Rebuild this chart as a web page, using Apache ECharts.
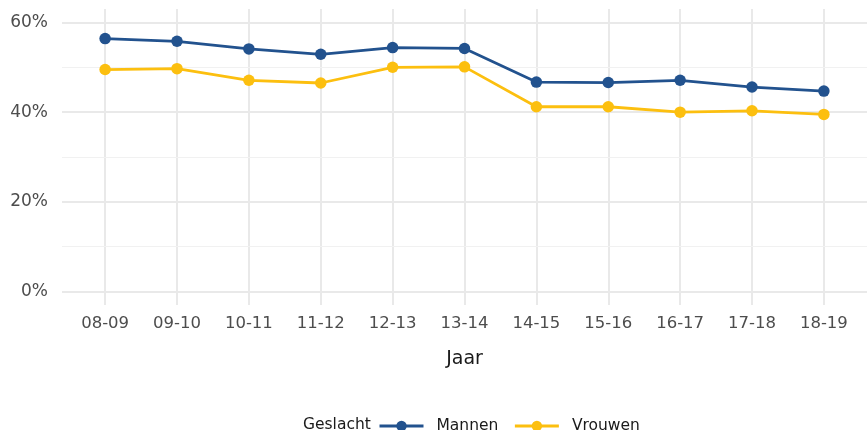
<!DOCTYPE html>
<html>
<head>
<meta charset="utf-8">
<script src="https://cdn.jsdelivr.net/npm/echarts@6/dist/echarts.min.js"></script>
<style>html,body{margin:0;padding:0;background:#fff}#c{width:867px;height:430px}</style>
</head>
<body>
<div id="c"></div>
<script>
var categories = ['08-09','09-10','10-11','11-12','12-13','13-14','14-15','15-16','16-17','17-18','18-19'];
var mannen = [56.4, 55.8, 54.1, 52.9, 54.4, 54.2, 46.7, 46.6, 47.1, 45.6, 44.7];
var vrouwen = [49.5, 49.7, 47.1, 46.5, 50.0, 50.1, 41.2, 41.2, 40.0, 40.3, 39.5];
var yMajorTicks = [0, 20, 40, 60];
var yMinorTicks = [10, 30, 50];

var FONT = 'DejaVu Sans';
var idx = categories.map(function (c, i) { return i; });
function pairs(arr) { return arr.map(function (v, i) { return [i, v]; }); }

var gridLines = [];
idx.forEach(function (i) {
  gridLines.push({ xAxis: i, lineStyle: { color: '#e9e9e9', width: 2, type: 'solid' } });
});
yMinorTicks.forEach(function (v) {
  gridLines.push({ yAxis: v, lineStyle: { color: '#f1f1f1', width: 1, type: 'solid' } });
});
yMajorTicks.forEach(function (v) {
  gridLines.push({ yAxis: v, lineStyle: { color: '#e9e9e9', width: 2, type: 'solid' } });
});

var chart = echarts.init(document.getElementById('c'), null, { renderer: 'canvas' });
chart.setOption({
  animation: false,
  backgroundColor: '#ffffff',
  grid: { left: 62, top: 9, width: 811, height: 296, containLabel: false },
  xAxis: {
    type: 'value', min: -0.6, max: 10.6,
    name: 'Jaar', nameLocation: 'middle', nameGap: 45,
    nameTextStyle: { fontFamily: FONT, fontSize: 19, color: '#1a1a1a' },
    axisLine: { show: false }, axisTick: { show: false }, splitLine: { show: false },
    axisLabel: {
      customValues: idx, margin: 10,
      fontFamily: FONT, fontSize: 16.5, color: '#4d4d4d',
      formatter: function (v) { return categories[Math.round(v)]; }
    }
  },
  yAxis: {
    type: 'value', min: -3, max: 63,
    axisLine: { show: false }, axisTick: { show: false }, splitLine: { show: false },
    axisLabel: {
      customValues: yMajorTicks, margin: 14,
      fontFamily: FONT, fontSize: 17, color: '#4d4d4d',
      formatter: function (v) { return v + '%'; }
    }
  },
  graphic: [{
    type: 'text', left: 303, top: 417,
    style: { text: 'Geslacht', font: '15.5px "DejaVu Sans"', fill: '#1a1a1a' }
  }],
  legend: {
    left: 378, top: 418, padding: 0, itemWidth: 44, itemHeight: 13, itemGap: 15,
    data: ['Mannen', 'Vrouwen'],
    lineStyle: { width: 3 },
    textStyle: { fontFamily: FONT, fontSize: 15.5, color: '#1a1a1a', padding: [0, 0, 0, 8] }
  },
  series: [
    {
      type: 'line', name: 'grid', data: [], z: 0, silent: true,
      markLine: { z: 0, silent: true, symbol: ['none', 'none'], label: { show: false }, animation: false, data: gridLines }
    },
    {
      type: 'line', name: 'Mannen', data: pairs(mannen), z: 3,
      symbol: 'circle', symbolSize: 11.5,
      lineStyle: { color: '#22528e', width: 2.8 }, itemStyle: { color: '#22528e' }
    },
    {
      type: 'line', name: 'Vrouwen', data: pairs(vrouwen), z: 2,
      symbol: 'circle', symbolSize: 11.5,
      lineStyle: { color: '#fcbf0f', width: 2.8 }, itemStyle: { color: '#fcbf0f' }
    }
  ]
});
</script>
</body>
</html>
